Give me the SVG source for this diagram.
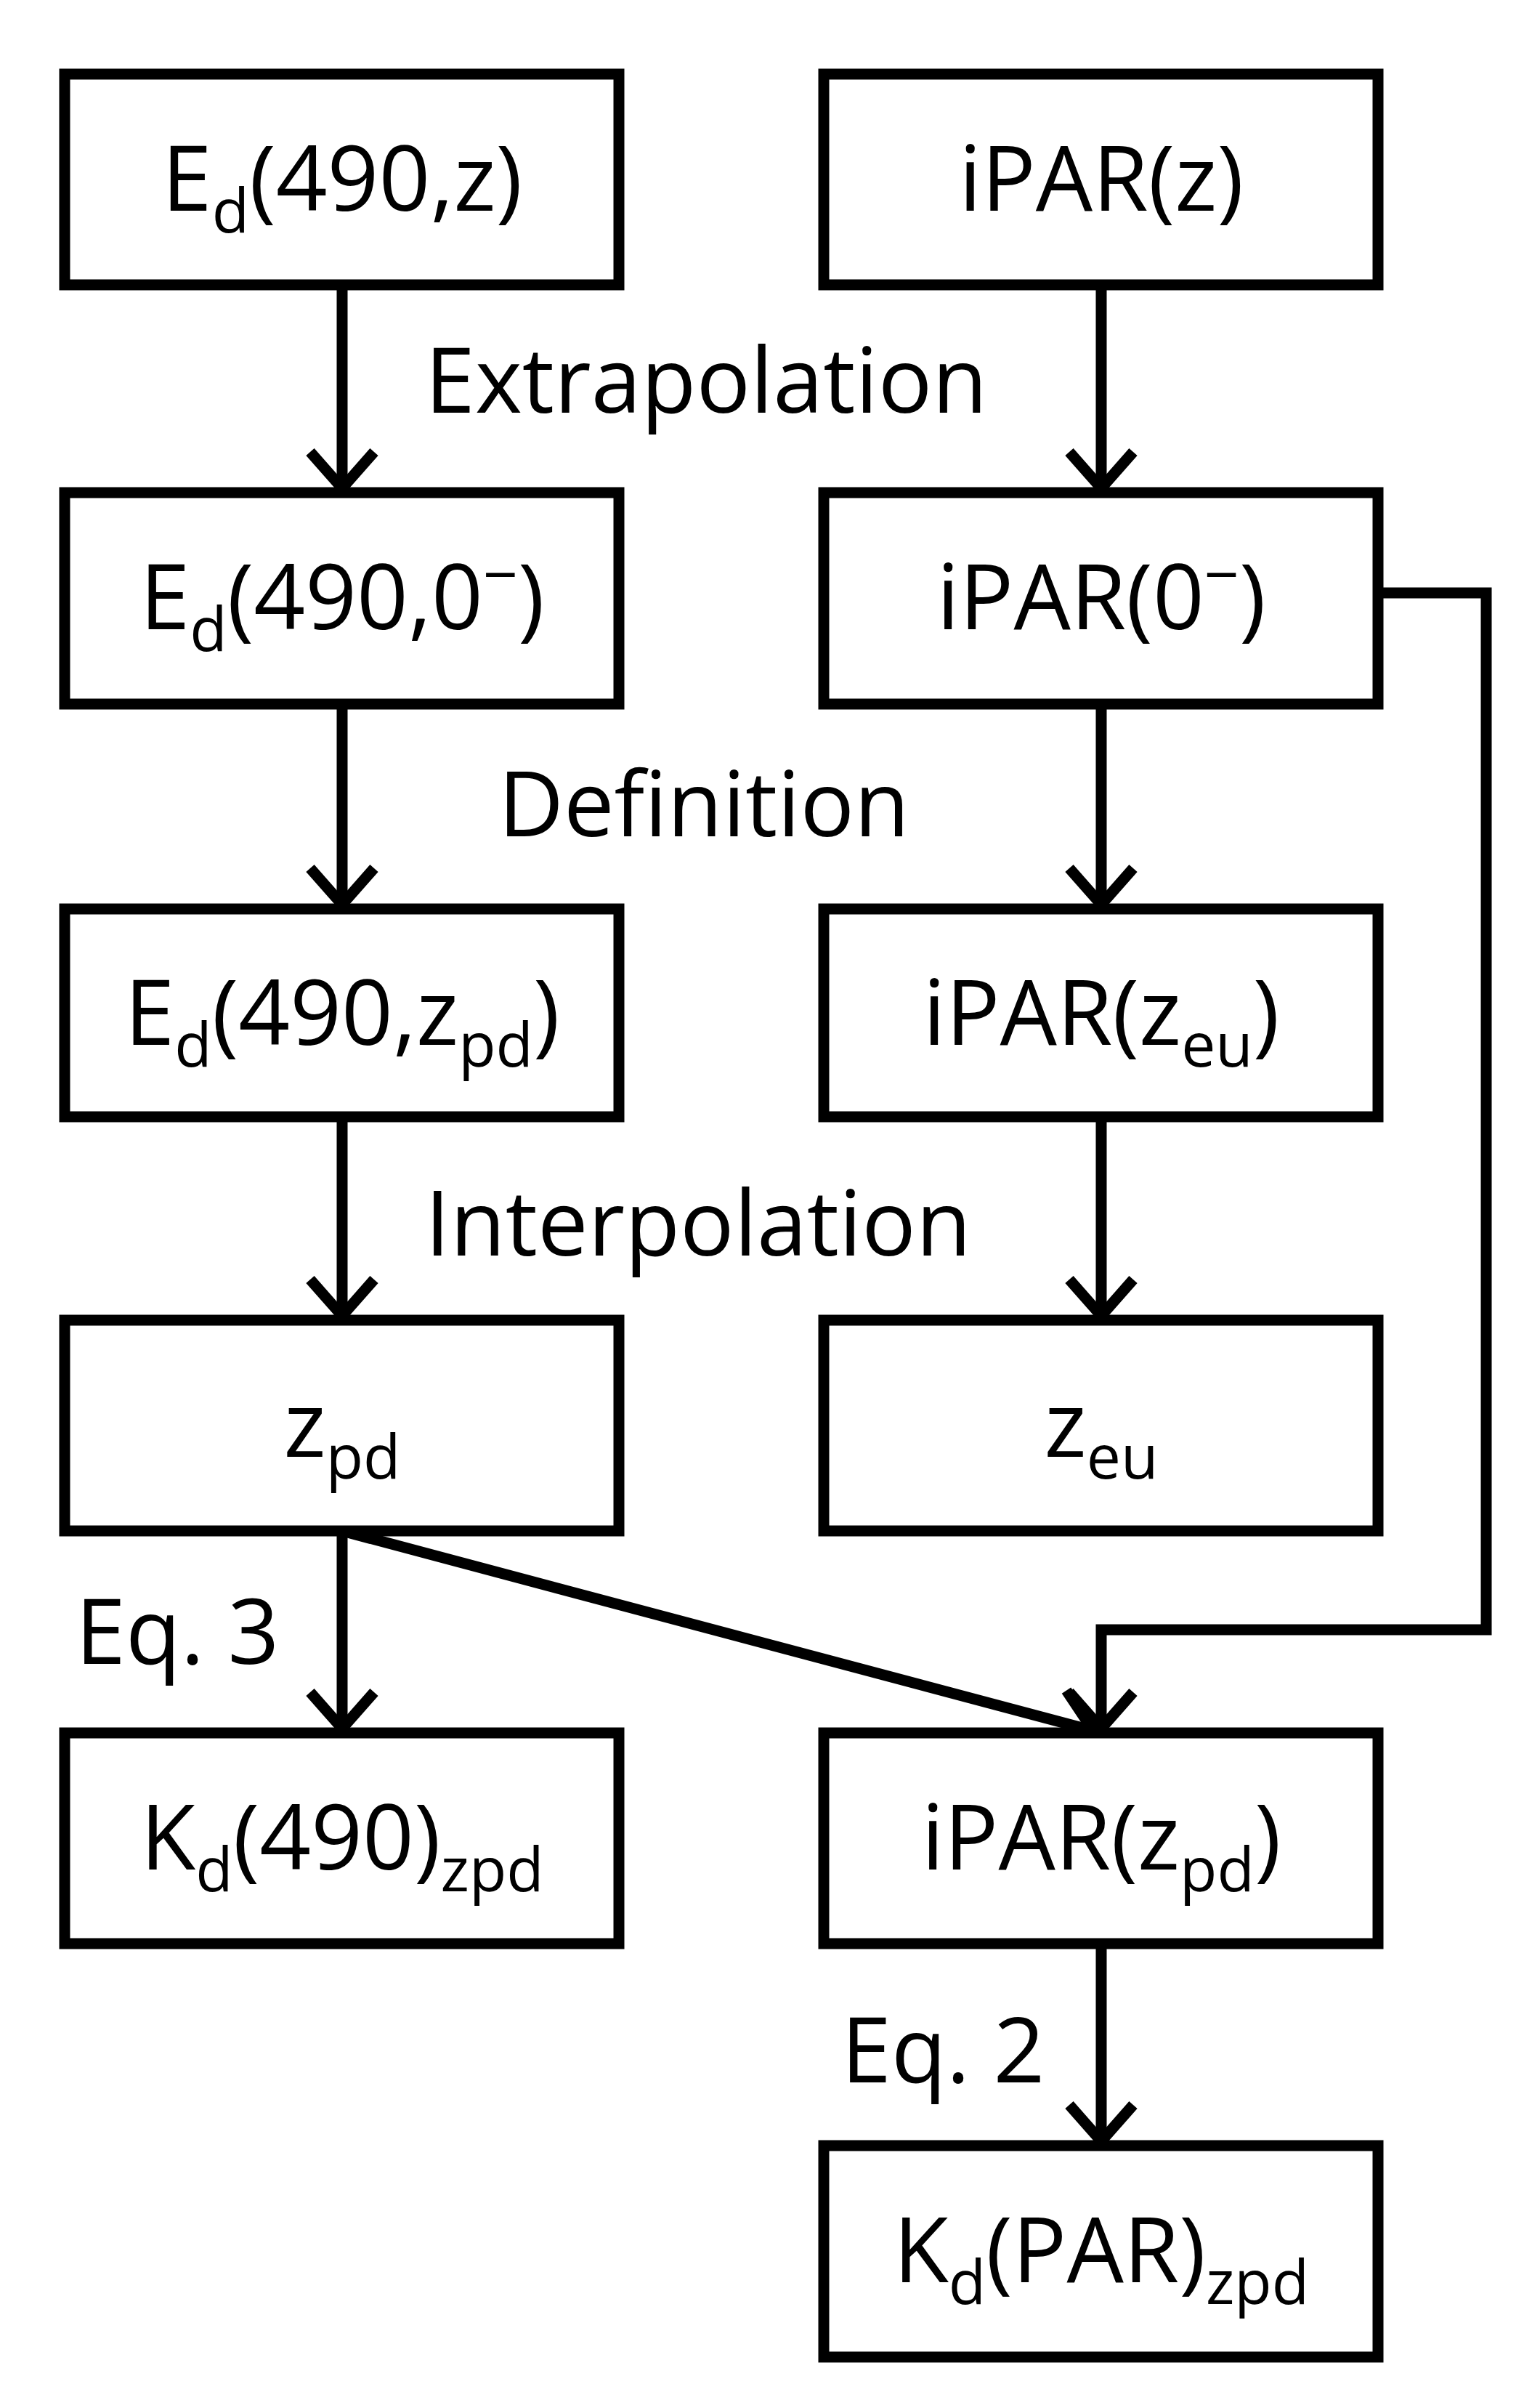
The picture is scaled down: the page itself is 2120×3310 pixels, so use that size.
<svg xmlns="http://www.w3.org/2000/svg" width="2120" height="3310" viewBox="0 0 2120 3310">
<style>
.b{fill:#fff;stroke:#000;stroke-width:15}
.t{font-family:"Open Sans","Liberation Sans",sans-serif;font-size:124px;text-anchor:middle;fill:#000}
.l{font-family:"Open Sans","Liberation Sans",sans-serif;font-size:124px;fill:#000}
.c{fill:none;stroke:#000;stroke-width:15}
</style>
<defs>
<marker id="a" markerUnits="userSpaceOnUse" markerWidth="120" markerHeight="120" refX="60" refY="60" orient="auto" viewBox="0 0 120 120">
<polyline points="10,16 60,60 10,104" fill="none" stroke="#000" stroke-width="15"/>
</marker>
</defs>
<rect width="2120" height="3310" fill="#fff"/>
<g id="connectors">
<line class="c" x1="471" y1="392" x2="471" y2="672" marker-end="url(#a)"/>
<line class="c" x1="1516" y1="392" x2="1516" y2="672" marker-end="url(#a)"/>
<line class="c" x1="471" y1="969" x2="471" y2="1245" marker-end="url(#a)"/>
<line class="c" x1="1516" y1="969" x2="1516" y2="1245" marker-end="url(#a)"/>
<line class="c" x1="471" y1="1537" x2="471" y2="1811" marker-end="url(#a)"/>
<line class="c" x1="1516" y1="1537" x2="1516" y2="1811" marker-end="url(#a)"/>
<line class="c" x1="471" y1="2107" x2="471" y2="2379" marker-end="url(#a)"/>
<line class="c" x1="471" y1="2107" x2="1505" y2="2382" marker-end="url(#a)"/>
<polyline class="c" points="1897,816 2046,816 2046,2243 1516,2243 1516,2379" marker-end="url(#a)"/>
<line class="c" x1="1516" y1="2675" x2="1516" y2="2947" marker-end="url(#a)"/>
</g>
<g id="n1"><rect class="b" x="89" y="102" width="763" height="290"/><text class="t" x="471" y="290">E<tspan font-size="84" dy="30">d</tspan><tspan dy="-30">(490,z)</tspan></text></g>
<g id="n2"><rect class="b" x="1134" y="102" width="763" height="290"/><text class="t" x="1516" y="290">iPAR(z)</text></g>
<g id="n3"><rect class="b" x="89" y="678" width="763" height="291"/><text class="t" x="471" y="866">E<tspan font-size="84" dy="30">d</tspan><tspan dy="-30">(490,0</tspan><tspan font-size="84" dy="-45">−</tspan><tspan dy="45">)</tspan></text></g>
<g id="n4"><rect class="b" x="1134" y="678" width="763" height="291"/><text class="t" x="1516" y="866">iPAR(0<tspan font-size="84" dy="-45">−</tspan><tspan dy="45">)</tspan></text></g>
<g id="n5"><rect class="b" x="89" y="1251" width="763" height="286"/><text class="t" x="471" y="1438">E<tspan font-size="84" dy="30">d</tspan><tspan dy="-30">(490,z</tspan><tspan font-size="84" dy="30">pd</tspan><tspan dy="-30">)</tspan></text></g>
<g id="n6"><rect class="b" x="1134" y="1251" width="763" height="286"/><text class="t" x="1516" y="1438">iPAR(z<tspan font-size="84" dy="30">eu</tspan><tspan dy="-30">)</tspan></text></g>
<g id="n7"><rect class="b" x="89" y="1817" width="763" height="290"/><text class="t" x="471" y="2005">z<tspan font-size="84" dy="30">pd</tspan></text></g>
<g id="n8"><rect class="b" x="1134" y="1817" width="763" height="290"/><text class="t" x="1516" y="2005">z<tspan font-size="84" dy="30">eu</tspan></text></g>
<g id="n9"><rect class="b" x="89" y="2385" width="763" height="290"/><text class="t" x="471" y="2573">K<tspan font-size="84" dy="30">d</tspan><tspan dy="-30">(490)</tspan><tspan font-size="84" dy="30">zpd</tspan></text></g>
<g id="n10"><rect class="b" x="1134" y="2385" width="763" height="290"/><text class="t" x="1516" y="2573">iPAR(z<tspan font-size="84" dy="30">pd</tspan><tspan dy="-30">)</tspan></text></g>
<g id="n11"><rect class="b" x="1134" y="2953" width="763" height="291"/><text class="t" x="1516" y="3141">K<tspan font-size="84" dy="30">d</tspan><tspan dy="-30">(PAR)</tspan><tspan font-size="84" dy="30">zpd</tspan></text></g>
<g id="labels">
<text class="l" x="585" y="568">Extrapolation</text>
<text class="l" x="686" y="1151">Definition</text>
<text class="l" x="585" y="1728">Interpolation</text>
<text class="l" x="104" y="2290">Eq. 3</text>
<text class="l" x="1158" y="2866">Eq. 2</text>
</g>
</svg>
